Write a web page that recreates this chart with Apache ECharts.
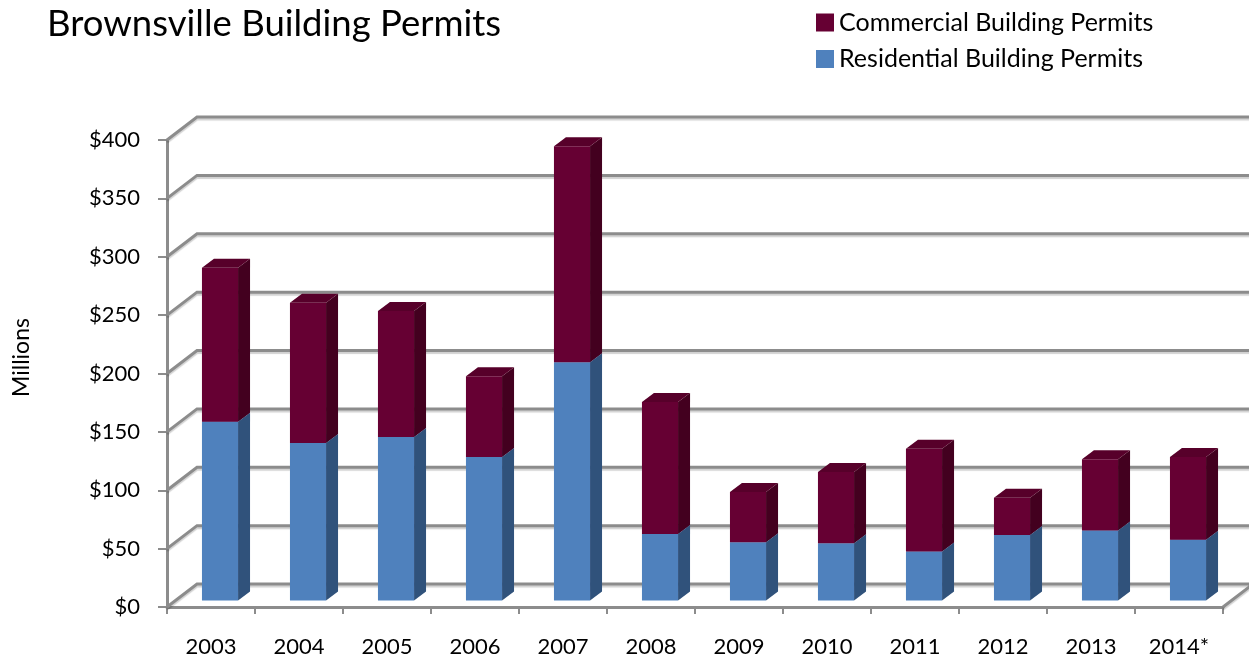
<!DOCTYPE html>
<html>
<head>
<meta charset="utf-8">
<script src="https://cdn.jsdelivr.net/npm/echarts@6/dist/echarts.min.js"></script>
<style>
html,body{margin:0;padding:0;background:#fff;}
#main{width:1249px;height:656px;}
</style>
</head>
<body>
<div id="main"></div>
<script>
// 年份
var years = ['2003','2004','2005','2006','2007','2008','2009','2010','2011','2012','2013','2014*']
// 住宅许可 (百万美元)
var residential = [153, 135, 140, 123, 204, 57, 50, 49, 42, 56, 60, 52]
// 商业许可 (百万美元)
var commercial = [132, 120, 108, 69, 185, 113, 43, 61, 88, 32, 61, 71]
// y轴刻度
var yTicks = [0, 50, 100, 150, 200, 250, 300, 350, 400]

var FONT = 'Lato'
// 3D 偏移
var wallDx = 30, wallDy = 23
var barDx = 9, barDy = 6.5
var sideDx = 12, sideDy = 9

var myChart = echarts.init(document.getElementById('main'))

function wallItem(params, api){
    var cs = params.coordSys
    var y = api.coord([0, api.value(0)])[1]
    var x0 = cs.x, W = cs.width
    var pts = [[x0, y], [x0 + wallDx, y - wallDy], [x0 + W + wallDx, y - wallDy]]
    if(api.value(0) == 0){
        pts = [[x0 + W, y], [x0 + W + wallDx, y - wallDy], [x0 + wallDx, y - wallDy], [x0, y]]
    }
    return {
        type: 'polyline',
        shape: {points: pts},
        style: {stroke: '#8c8c8c', lineWidth: 3, fill: null,
            shadowColor: 'rgba(0,0,0,0.18)', shadowOffsetY: 2, shadowBlur: 1}
    }
}

function makeBar(front, side, top){
    return function(params, api){
        var i = api.value(0)
        var v = api.value(1)
        var base = api.value(2)
        var p0 = api.coord([i, base])
        var p1 = api.coord([i, base + v])
        var bw = api.size([1, 0])[0]
        var fw = bw * 0.41
        var x = p0[0] + barDx - fw / 2
        var yb = p0[1] - barDy
        var yt = p1[1] - barDy
        return {
            type: 'group',
            children: [
                {type: 'polygon', shape: {points: [[x + fw, yb], [x + fw + sideDx, yb - sideDy], [x + fw + sideDx, yt - sideDy], [x + fw, yt]]},
                 style: {fill: side}},
                {type: 'polygon', shape: {points: [[x, yt], [x + sideDx, yt - sideDy], [x + fw + sideDx, yt - sideDy], [x + fw, yt]]},
                 style: {fill: top}},
                {type: 'rect', shape: {x: x, y: yt, width: fw, height: yb - yt},
                 style: {fill: front}}
            ]
        }
    }
}

var resData = residential.map(function(v, i){ return [i, v, 0] })
var comData = commercial.map(function(v, i){ return [i, v, residential[i]] })
var wallData = yTicks.map(function(v){ return [v] })

var option = {
    animation: false,
    title: {
        text: 'Brownsville Building Permits',
        left: 42,
        top: 1,
        textStyle: {fontFamily: FONT, fontSize: 36.5, fontWeight: 'normal', color: '#000'}
    },
    legend: {
        orient: 'vertical',
        left: 811,
        top: 5,
        itemWidth: 18,
        itemHeight: 18,
        itemGap: 11.5,
        icon: 'rect',
        data: ['Commercial Building Permits', 'Residential Building Permits'],
        textStyle: {fontFamily: FONT, fontSize: 25, color: '#000'}
    },
    grid: {
        left: 167,
        right: 26,
        top: 140,
        bottom: 49,
        outerBoundsMode: 'none',
        containLabel: false
    },
    xAxis: {
        type: 'category',
        data: years,
        boundaryGap: true,
        axisLine: {show: true, lineStyle: {color: '#8c8c8c', width: 3}},
        axisTick: {show: true, alignWithLabel: false, length: 7, lineStyle: {color: '#8c8c8c', width: 2}},
        axisLabel: {margin: 29, fontFamily: FONT, fontSize: 22, color: '#000'}
    },
    yAxis: {
        type: 'value',
        min: 0,
        max: 400,
        interval: 50,
        name: 'Millions',
        nameLocation: 'middle',
        nameRotate: 90,
        nameGap: 134,
        nameTextStyle: {fontFamily: FONT, fontSize: 23, color: '#000', padding: [0, 0, 0, 32]},
        splitLine: {show: false},
        axisLine: {show: true, lineStyle: {color: '#8c8c8c', width: 3}},
        axisTick: {show: true, length: 9, lineStyle: {color: '#8c8c8c', width: 2}},
        axisLabel: {formatter: '${value}', margin: 27, fontFamily: FONT, fontSize: 22, color: '#000'}
    },
    series: [
        {
            name: 'wall',
            type: 'custom',
            renderItem: wallItem,
            data: wallData,
            encode: {y: 0},
            z: 1,
            silent: true
        },
        {
            name: 'Residential Building Permits',
            type: 'custom',
            renderItem: makeBar('#4f81bd', '#30527b', '#6a95c9'),
            itemStyle: {color: '#4f81bd'},
            data: resData,
            encode: {x: 0, y: 1},
            z: 3
        },
        {
            name: 'Commercial Building Permits',
            type: 'custom',
            renderItem: makeBar('#660033', '#43001f', '#57002a'),
            itemStyle: {color: '#660033'},
            data: comData,
            encode: {x: 0, y: 1},
            z: 3
        }
    ]
}
myChart.setOption(option)
</script>
</body>
</html>
